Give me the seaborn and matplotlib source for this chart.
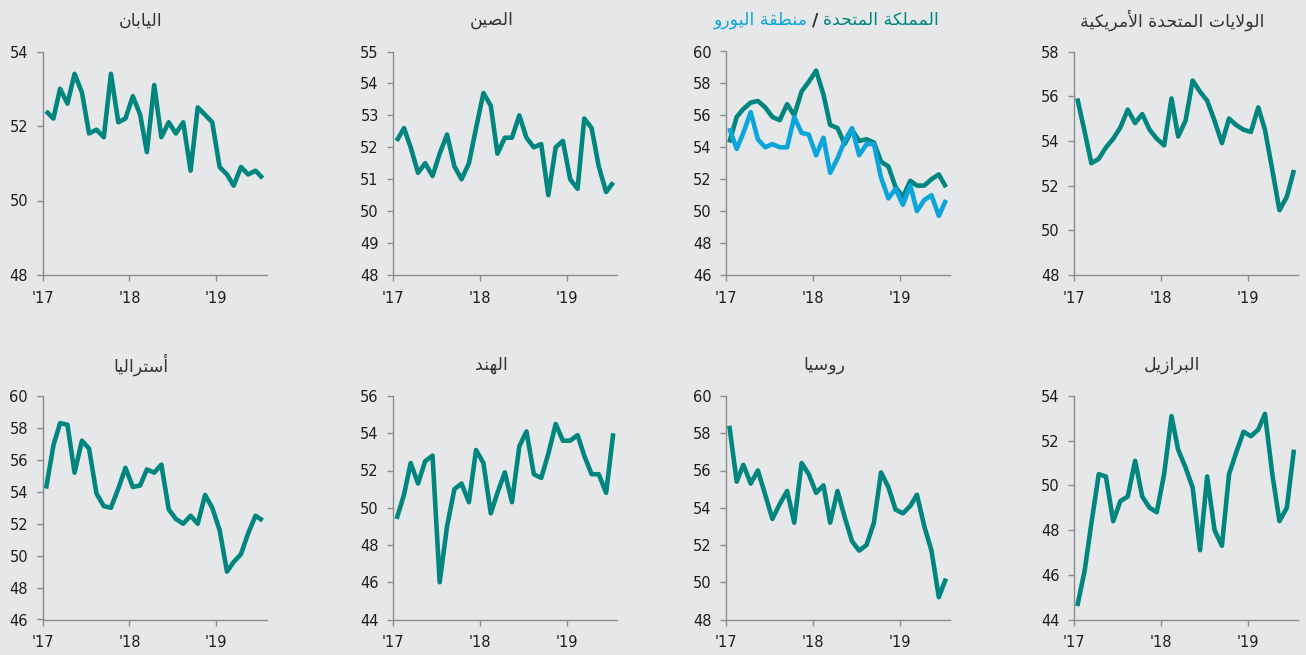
import numpy as np
import pandas as pd
import matplotlib
matplotlib.use("Agg")
import matplotlib.pyplot as plt
import seaborn as sns

# monthly readings, Jan 2017 - Jul 2019
months = pd.date_range("2017-01-01", periods=31, freq="MS") + pd.Timedelta(days=14)

japan = [52.4, 52.2, 53.0, 52.6, 53.4, 52.9, 51.8, 51.9, 51.7, 53.4, 52.1, 52.2, 52.8, 52.3, 51.3, 53.1,
         51.7, 52.1, 51.8, 52.1, 50.8, 52.5, 52.3, 52.1, 50.9, 50.7, 50.4, 50.9, 50.7, 50.8, 50.6]
china = [52.2, 52.6, 52.0, 51.2, 51.5, 51.1, 51.8, 52.4, 51.4, 51.0, 51.5, 52.6, 53.7, 53.3, 51.8, 52.3,
         52.3, 53.0, 52.3, 52.0, 52.1, 50.5, 52.0, 52.2, 51.0, 50.7, 52.9, 52.6, 51.4, 50.6, 50.9]
uk = [54.3, 55.9, 56.4, 56.8, 56.9, 56.5, 55.9, 55.7, 56.7, 56.0, 57.5, 58.1, 58.8, 57.3, 55.4, 55.2,
      54.2, 55.1, 54.4, 54.5, 54.3, 53.1, 52.8, 51.5, 50.9, 51.9, 51.6, 51.6, 52.0, 52.3, 51.5]
euro = [55.2, 53.9, 54.9, 56.2, 54.5, 54.0, 54.2, 54.0, 54.0, 55.9, 54.9, 54.8, 53.5, 54.6, 52.4, 53.3,
        54.4, 55.2, 53.5, 54.2, 54.2, 52.1, 50.8, 51.4, 50.4, 51.6, 50.0, 50.7, 51.0, 49.7, 50.7]
usa = [55.9, 54.4, 53.0, 53.2, 53.7, 54.1, 54.6, 55.4, 54.8, 55.2, 54.5, 54.1, 53.8, 55.9, 54.2, 54.9,
       56.7, 56.2, 55.8, 54.9, 53.9, 55.0, 54.7, 54.5, 54.4, 55.5, 54.5, 52.7, 50.9, 51.5, 52.7]
australia = [54.2, 56.9, 58.3, 58.2, 55.2, 57.2, 56.7, 53.9, 53.1, 53.0, 54.2, 55.5, 54.3, 54.4, 55.4, 55.2,
             55.7, 52.9, 52.3, 52.0, 52.5, 52.0, 53.8, 53.0, 51.6, 49.0, 49.6, 50.1, 51.4, 52.5, 52.2]
india = [49.4, 50.7, 52.4, 51.3, 52.5, 52.8, 46.0, 49.0, 51.0, 51.3, 50.3, 53.1, 52.4, 49.7, 50.8, 51.9,
         50.3, 53.3, 54.1, 51.8, 51.6, 52.9, 54.5, 53.6, 53.6, 53.9, 52.8, 51.8, 51.8, 50.8, 54.0]
russia = [58.4, 55.4, 56.3, 55.3, 56.0, 54.7, 53.4, 54.2, 54.9, 53.2, 56.4, 55.8, 54.8, 55.2, 53.2, 54.9,
          53.5, 52.2, 51.7, 52.0, 53.2, 55.9, 55.1, 53.9, 53.7, 54.1, 54.7, 53.0, 51.7, 49.2, 50.2]
brazil = [44.6, 46.2, 48.3, 50.5, 50.4, 48.4, 49.3, 49.5, 51.1, 49.5, 49.0, 48.8, 50.5, 53.1, 51.6, 50.8,
          49.9, 47.1, 50.4, 48.0, 47.3, 50.5, 51.5, 52.4, 52.2, 52.5, 53.2, 50.5, 48.4, 49.0, 51.6]

titles = ["اليابان", "الصين", None, "الولايات المتحدة الأمريكية",
          "أستراليا", "الهند", "روسيا", "البرازيل"]
uk_title = "المملكة المتحدة"
euro_title = "منطقة اليورو"
year_labels = ["'17", "'18", "'19"]
ylims = [(48, 54, 2), (48, 55, 1), (46, 60, 2), (48, 58, 2),
         (46, 60, 2), (44, 56, 2), (48, 60, 2), (44, 54, 2)]

TEAL = "#00867e"
BLUE = "#0ba5dc"
BG = "#e6e7e9"
SPINE = "#8c8c8c"

# --- minimal arabic shaping (presentation forms, visual order) ---
FORMS = {
    "ا": (0xFE8D, 0xFE8E, None, None), "أ": (0xFE83, 0xFE84, None, None),
    "ب": (0xFE8F, 0xFE90, 0xFE91, 0xFE92), "ة": (0xFE93, 0xFE94, None, None),
    "ت": (0xFE95, 0xFE96, 0xFE97, 0xFE98), "ح": (0xFEA1, 0xFEA2, 0xFEA3, 0xFEA4),
    "د": (0xFEA9, 0xFEAA, None, None), "ر": (0xFEAD, 0xFEAE, None, None),
    "ز": (0xFEAF, 0xFEB0, None, None), "س": (0xFEB1, 0xFEB2, 0xFEB3, 0xFEB4),
    "ص": (0xFEB9, 0xFEBA, 0xFEBB, 0xFEBC), "ط": (0xFEC1, 0xFEC2, 0xFEC3, 0xFEC4),
    "ق": (0xFED5, 0xFED6, 0xFED7, 0xFED8), "ك": (0xFED9, 0xFEDA, 0xFEDB, 0xFEDC),
    "ل": (0xFEDD, 0xFEDE, 0xFEDF, 0xFEE0), "م": (0xFEE1, 0xFEE2, 0xFEE3, 0xFEE4),
    "ن": (0xFEE5, 0xFEE6, 0xFEE7, 0xFEE8), "ه": (0xFEE9, 0xFEEA, 0xFEEB, 0xFEEC),
    "و": (0xFEED, 0xFEEE, None, None), "ي": (0xFEF1, 0xFEF2, 0xFEF3, 0xFEF4),
    "لا": (0xFEFB, 0xFEFC, None, None), "لأ": (0xFEF7, 0xFEF8, None, None),
}


def shape(text):
    units = []
    i = 0
    while i < len(text):
        if text[i] == "ل" and i + 1 < len(text) and text[i + 1] in "اأ":
            units.append(text[i:i + 2])
            i += 2
        else:
            units.append(text[i])
            i += 1
    out = []
    for k, u in enumerate(units):
        if u not in FORMS:
            out.append(u)
            continue
        f = FORMS[u]
        prev = units[k - 1] if k > 0 else None
        nxt = units[k + 1] if k + 1 < len(units) else None
        pj = prev in FORMS and FORMS[prev][2] is not None
        nj = f[2] is not None and nxt in FORMS
        if pj and nj:
            c = f[3]
        elif pj:
            c = f[1]
        elif nj:
            c = f[2]
        else:
            c = f[0]
        out.append(chr(c))
    return "".join(reversed(out))


sns.set_style("ticks", {"axes.facecolor": BG, "figure.facecolor": BG})
plt.rcParams["font.family"] = ["DejaVu Sans"]

fig = plt.figure(figsize=(13.06, 6.55), dpi=100)
W, H = 1306, 655
lefts = [42.7, 393.3, 726, 1074]
tops = [51.5, 396]
aw, ah = 224, 223.5

series = [[japan], [china], [uk, euro], [usa], [australia], [india], [russia], [brazil]]

for n in range(8):
    r, c = divmod(n, 4)
    ax = fig.add_axes([lefts[c] / W, 1 - (tops[r] + ah) / H, aw / W, ah / H])
    for j, vals in enumerate(series[n]):
        sns.lineplot(x=months, y=vals, ax=ax, color=TEAL if j == 0 else BLUE,
                     lw=3.3, solid_joinstyle="round", solid_capstyle="butt")
    lo, hi, st = ylims[n]
    ax.set_ylim(lo, hi)
    ax.set_yticks(np.arange(lo, hi + 0.1, st))
    ax.set_xlim(pd.Timestamp("2017-01-01"), pd.Timestamp("2019-08-01"))
    ax.set_xticks([pd.Timestamp("2017-01-01"), pd.Timestamp("2018-01-01"), pd.Timestamp("2019-01-01")])
    ax.set_xticklabels(year_labels)
    ax.set_xlabel("")
    ax.set_ylabel("")
    sns.despine(ax=ax)
    for s in ["left", "bottom"]:
        ax.spines[s].set_color(SPINE)
        ax.spines[s].set_linewidth(1.0)
    ax.tick_params(axis="both", length=4.5, width=1, color=SPINE, labelsize=10.5,
                   labelcolor="#1e1e1e", direction="out")
    ax.tick_params(axis="x", pad=7)
    ax.tick_params(axis="y", pad=6)

    if titles[n] is not None:
        ax.text(0.4375, 1.14, shape(titles[n]), transform=ax.transAxes, ha="center",
                va="center", fontsize=12.5, color="#333333")
    else:
        sl = ax.text(0.40, 1.14, "/", transform=ax.transAxes, ha="center", va="center",
                     fontsize=12.5, color="#333333", fontweight="bold")
        ax.annotate(shape(uk_title), xy=(1, 0.5), xycoords=sl, xytext=(3, 0),
                    textcoords="offset points", ha="left", va="center",
                    fontsize=12.5, color=TEAL)
        ax.annotate(shape(euro_title), xy=(0, 0.5), xycoords=sl, xytext=(-3, 0),
                    textcoords="offset points", ha="right", va="center",
                    fontsize=12.5, color=BLUE)

fig.savefig("out.png", dpi=100, facecolor=BG)
